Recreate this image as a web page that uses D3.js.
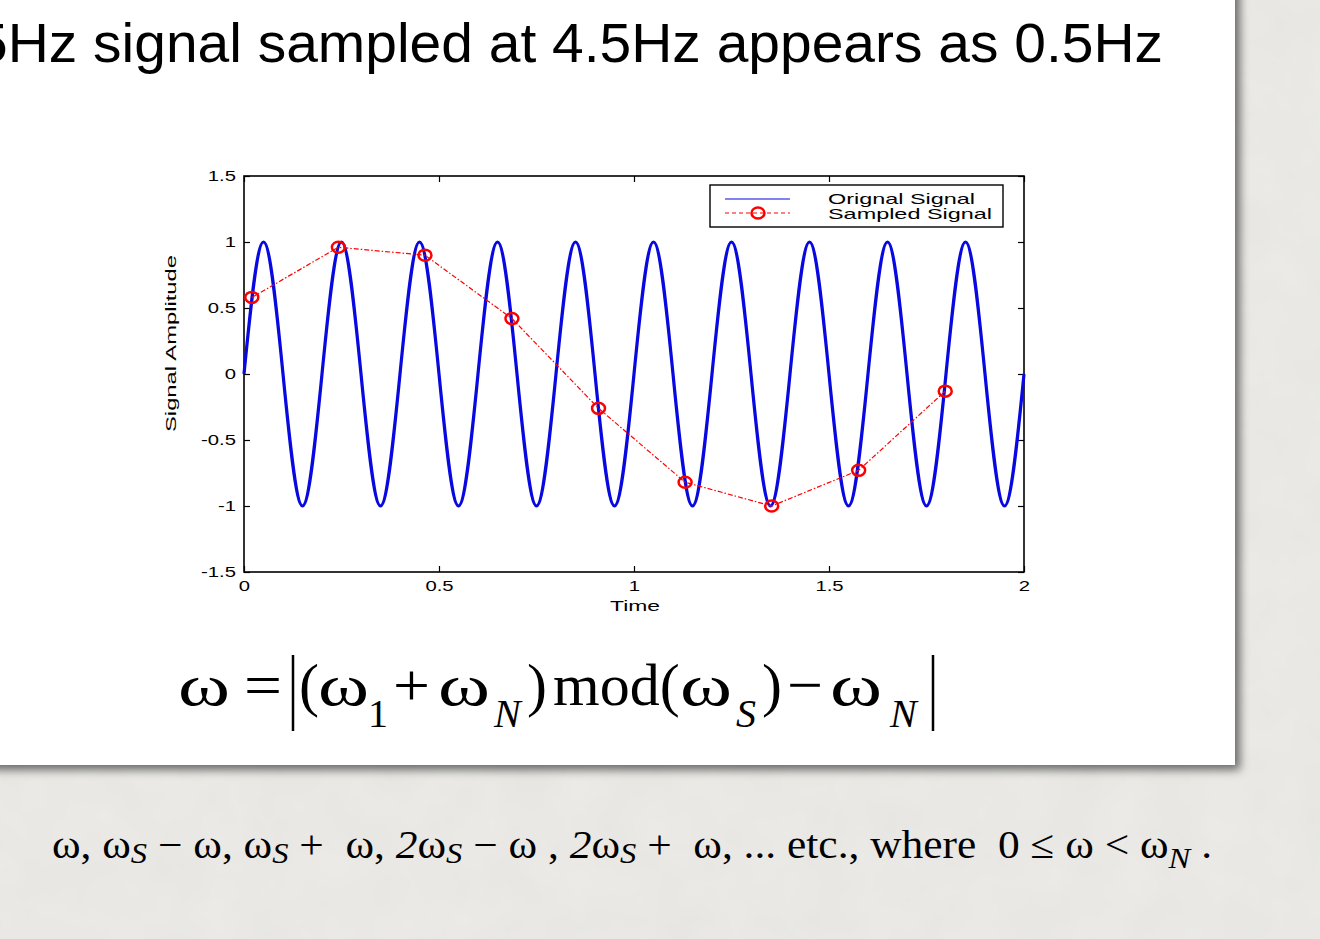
<!DOCTYPE html>
<html>
<head>
<meta charset="utf-8">
<script src="https://cdn.jsdelivr.net/npm/d3@7"></script>
<style>
  body { margin: 0; background: #ecebe8; }
  svg { display: block; }
</style>
</head>
<body>
<div id="chart"></div>
<script>
// Original 5Hz signal, read at quarter periods
const signalTime = [0, 0.05, 0.1, 0.15, 0.2, 0.25, 0.3, 0.35, 0.4, 0.45, 0.5, 0.55, 0.6, 0.65, 0.7, 0.75,
  0.8, 0.85, 0.9, 0.95, 1, 1.05, 1.1, 1.15, 1.2, 1.25, 1.3, 1.35, 1.4, 1.45, 1.5, 1.55, 1.6, 1.65, 1.7,
  1.75, 1.8, 1.85, 1.9, 1.95, 2]
const signalValue = [0, 1, 0, -1, 0, 1, 0, -1, 0, 1, 0, -1, 0, 1, 0, -1, 0, 1, 0, -1, 0, 1, 0, -1, 0, 1,
  0, -1, 0, 1, 0, -1, 0, 1, 0, -1, 0, 1, 0, -1, 0]

// Samples taken at 4.5Hz
const sampleTime = [0.02, 0.242, 0.464, 0.687, 0.909, 1.131, 1.353, 1.576, 1.798]
const sampleValue = [0.58, 0.96, 0.90, 0.42, -0.26, -0.82, -1.0, -0.73, -0.13]

const xTicks = [0, 0.5, 1, 1.5, 2]
const yTicks = [-1.5, -1, -0.5, 0, 0.5, 1, 1.5]
const legendLabels = ["Orignal Signal", "Sampled Signal"]

const width = 1320
const height = 939
const plot = { left: 244, top: 176, width: 780, height: 396 }
const sans = "'Liberation Sans', Arial, sans-serif"
const serif = "'Liberation Serif', 'Times New Roman', serif"

const svg = d3.select("#chart").append("svg")
  .attr("width", width)
  .attr("height", height)

const defs = svg.append("defs")
const shadow = defs.append("filter").attr("id", "shadow")
  .attr("x", "-5%").attr("y", "-5%").attr("width", "115%").attr("height", "115%")
shadow.append("feDropShadow")
  .attr("dx", 5).attr("dy", 5).attr("stdDeviation", 5)
  .attr("flood-color", "#000").attr("flood-opacity", 0.55)

const paper = defs.append("filter").attr("id", "paper")
paper.append("feTurbulence").attr("type", "fractalNoise")
  .attr("baseFrequency", 0.02).attr("numOctaves", 3).attr("seed", 4)
paper.append("feColorMatrix").attr("type", "matrix")
  .attr("values", "0 0 0 0 0.5  0 0 0 0 0.5  0 0 0 0 0.48  0 0 0 0.12 0")

// slide background and card
svg.append("rect").attr("width", width).attr("height", height).attr("fill", "#ecebe8")
svg.append("rect").attr("width", width).attr("height", height).attr("filter", "url(#paper)")
svg.append("rect")
  .attr("x", -30).attr("y", -30)
  .attr("width", 1265).attr("height", 795)
  .attr("fill", "#fff")
  .attr("filter", "url(#shadow)")

// title runs off the left edge of the slide, as in the original
svg.append("text")
  .attr("x", -24).attr("y", 62)
  .attr("textLength", 1187)
  .attr("lengthAdjust", "spacingAndGlyphs")
  .style("font-family", sans)
  .style("font-size", "55px")
  .text("5Hz signal sampled at 4.5Hz appears as 0.5Hz")

// plot
const xScale = d3.scaleLinear().domain([0, 2]).range([0, plot.width])
const yScale = d3.scaleLinear().domain([-1.5, 1.5]).range([plot.height, 0])

const g = svg.append("g").attr("transform", `translate(${plot.left},${plot.top})`)

const tickFont = sel => sel.selectAll("text")
  .style("font-family", sans)
  .style("font-size", "15px")
  .attr("fill", "#000")
  .attr("transform", "scale(1.35,1)")

g.append("g")
  .attr("transform", `translate(0,${plot.height})`)
  .call(d3.axisBottom(xScale).tickValues(xTicks).tickSize(-6).tickSizeOuter(0)
    .tickPadding(8).tickFormat(d => String(d)))
  .call(tickFont)

g.append("g")
  .call(d3.axisLeft(yScale).tickValues(yTicks).tickSize(-6).tickSizeOuter(0)
    .tickPadding(6).tickFormat(d => String(d)))
  .call(tickFont)

g.append("g")
  .call(d3.axisTop(xScale).tickValues(xTicks).tickSize(-6).tickSizeOuter(0).tickFormat(""))

g.append("g")
  .attr("transform", `translate(${plot.width},0)`)
  .call(d3.axisRight(yScale).tickValues(yTicks).tickSize(-6).tickSizeOuter(0).tickFormat(""))

g.selectAll(".domain").remove()
g.selectAll(".tick line").attr("stroke", "#000").attr("stroke-width", 1.2)

g.append("rect")
  .attr("width", plot.width).attr("height", plot.height)
  .attr("fill", "none").attr("stroke", "#000").attr("stroke-width", 1.6)

const signal = d3.zip(signalTime, signalValue)
g.append("path")
  .datum(signal)
  .attr("fill", "none")
  .attr("stroke", "#0808e0")
  .attr("stroke-width", 3.2)
  .attr("d", d3.line().x(d => xScale(d[0])).y(d => yScale(d[1])).curve(d3.curveNatural))

const samples = d3.zip(sampleTime, sampleValue)
g.append("path")
  .datum(samples)
  .attr("fill", "none")
  .attr("stroke", "#f00")
  .attr("stroke-width", 1.2)
  .attr("stroke-dasharray", "5,2,1.5,2")
  .attr("d", d3.line().x(d => xScale(d[0])).y(d => yScale(d[1])))

g.selectAll(".sample")
  .data(samples)
  .enter().append("ellipse")
  .attr("class", "sample")
  .attr("cx", d => xScale(d[0]))
  .attr("cy", d => yScale(d[1]))
  .attr("rx", 6.5).attr("ry", 5.5)
  .attr("fill", "none").attr("stroke", "#f00").attr("stroke-width", 2.5)

// axis titles
g.append("text")
  .attr("x", plot.width / 2 - 24).attr("y", plot.height + 39)
  .attr("textLength", 50).attr("lengthAdjust", "spacingAndGlyphs")
  .style("font-family", sans).style("font-size", "15px")
  .text("Time")

g.append("text")
  .attr("transform", `translate(${176 - plot.left},${432 - plot.top}) rotate(-90)`)
  .attr("textLength", 177).attr("lengthAdjust", "spacingAndGlyphs")
  .style("font-family", sans).style("font-size", "15px")
  .text("Signal Amplitude")

// legend
const legend = g.append("g").attr("transform", `translate(${710 - plot.left},${185 - plot.top})`)
legend.append("rect").attr("width", 293).attr("height", 42)
  .attr("fill", "#fff").attr("stroke", "#000").attr("stroke-width", 1.4)
legend.append("line").attr("x1", 15).attr("x2", 80).attr("y1", 14).attr("y2", 14)
  .attr("stroke", "#0808e0").attr("stroke-width", 1.2)
legend.append("line").attr("x1", 15).attr("x2", 80).attr("y1", 28).attr("y2", 28)
  .attr("stroke", "#f00").attr("stroke-width", 1.2).attr("stroke-dasharray", "4,3")
legend.append("ellipse").attr("cx", 48).attr("cy", 28).attr("rx", 6.5).attr("ry", 5.5)
  .attr("fill", "none").attr("stroke", "#f00").attr("stroke-width", 2.5)
legend.selectAll(".label")
  .data(legendLabels)
  .enter().append("text")
  .attr("x", 118)
  .attr("y", (d, i) => 19 + i * 15)
  .attr("textLength", (d, i) => i === 0 ? 147 : 164)
  .attr("lengthAdjust", "spacingAndGlyphs")
  .style("font-family", sans).style("font-size", "15px")
  .text(d => d)

// formula: each piece placed where it sits on the slide
const formulaParts = [
  { t: "ω", x: 178, w: 52 },
  { t: "=", x: 244, w: 38 },
  { t: "(", x: 299 },
  { t: "ω", x: 318, w: 51 },
  { t: "1", x: 368, sub: true },
  { t: "+", x: 393, w: 37 },
  { t: "ω", x: 438, w: 52 },
  { t: "N", x: 494, sub: true, it: true },
  { t: ")", x: 527 },
  { t: "mod(", x: 553 },
  { t: "ω", x: 680, w: 52 },
  { t: "S", x: 736, sub: true, it: true },
  { t: ")", x: 762 },
  { t: "−", x: 787, w: 36 },
  { t: "ω", x: 830, w: 52 },
  { t: "N", x: 890, sub: true, it: true }
]
const formula = svg.append("g")
formula.selectAll("text")
  .data(formulaParts)
  .enter().append("text")
  .attr("x", d => d.x)
  .attr("y", d => d.sub ? 727 : 705)
  .attr("textLength", d => d.w || null)
  .attr("lengthAdjust", "spacingAndGlyphs")
  .style("font-family", serif)
  .style("font-size", d => d.sub ? "40px" : "60px")
  .style("font-style", d => d.it ? "italic" : "normal")
  .text(d => d.t)

formula.selectAll("line")
  .data([293, 933])
  .enter().append("line")
  .attr("x1", d => d).attr("x2", d => d).attr("y1", 655).attr("y2", 731)
  .attr("stroke", "#000").attr("stroke-width", 2.5)

// aliases line
const aliases = svg.append("text")
  .attr("x", 52).attr("y", 858)
  .attr("textLength", 1160)
  .attr("lengthAdjust", "spacingAndGlyphs")
  .style("white-space", "pre")
  .style("font-family", serif).style("font-size", "40px")
const subS = () => {
  aliases.append("tspan").attr("dy", 5).style("font-size", "30px").style("font-style", "italic").text("S")
}
aliases.append("tspan").text("ω, ω")
subS()
aliases.append("tspan").attr("dy", -5).text(" − ω, ω")
subS()
aliases.append("tspan").attr("dy", -5).text(" +  ω, ")
aliases.append("tspan").style("font-style", "italic").text("2")
aliases.append("tspan").text("ω")
subS()
aliases.append("tspan").attr("dy", -5).text(" − ω , ")
aliases.append("tspan").style("font-style", "italic").text("2")
aliases.append("tspan").text("ω")
subS()
aliases.append("tspan").attr("dy", -5).text(" +  ω, ... etc., where  0 ≤ ω < ω")
aliases.append("tspan").attr("dy", 10).style("font-size", "30px").style("font-style", "italic").text("N")
aliases.append("tspan").attr("dy", -10).text(" .")
</script>
</body>
</html>
